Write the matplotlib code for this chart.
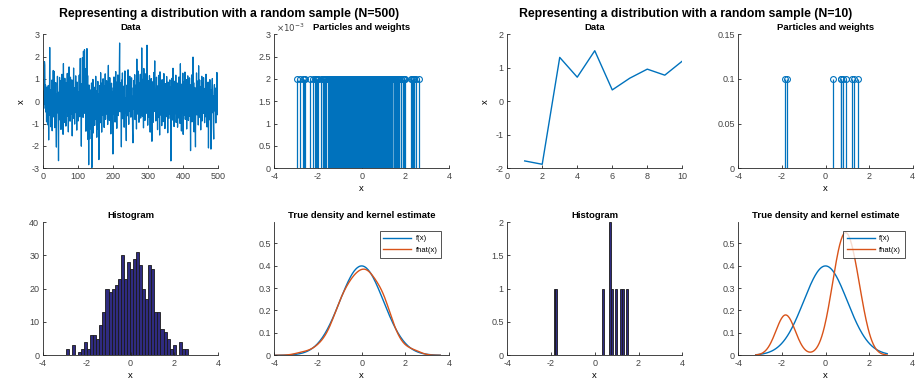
import numpy as np
import matplotlib
matplotlib.use('Agg')
import matplotlib.pyplot as plt

plt.rcParams['font.family'] = ['Liberation Sans', 'DejaVu Sans']
plt.rcParams['axes.unicode_minus'] = False

# sample of N=500 (values estimated from the trace)
data500 = [
    -1.21, 0.45, -0.32, 0.88, 1.78, 1.62, -0.15, 0.73, -0.48, 0.21, -0.92, 0.64, -0.27, -1.05, 0.38, 0.71, -1.73, 0.12, -0.56, 2.41,
    -0.63, 0.27, -1.14, 0.52, -0.08, 0.95, -1.32, 0.18, -0.71, 1.38, -0.44, 0.06, 1.34, -1.18, 0.59, -0.21, 0.84, -0.97, -2.05, 0.33,
    -0.52, 1.12, -0.36, 0.24, -2.66, 0.41, -0.83, 1.07, 0.15, -0.62, 0.93, -1.26, 0.48, -0.11, 1.21, -0.74, 0.29, -1.48, 1.69, -0.39,
    0.57, -0.95, 1.03, -0.18, 0.36, -1.11, 0.82, -0.47, 0.13, 1.25, -0.66, 0.44, -1.37, 0.09, 1.54, -0.28, 0.67, -0.89, 1.08, -0.14,
    0.49, -0.58, 0.96, -1.55, 0.22, 0.75, -0.31, 1.49, -0.77, 0.34, -1.02, 0.61, -0.23, 1.14, -0.51, 0.17, -1.29, 0.86, -0.05, 0.42,
    -0.88, 0.31, -0.42, 1.17, -0.69, 0.55, 1.92, -0.37, 0.04, -2.01, 0.78, -0.16, 1.95, 0.26, -0.72, 2.24, 1.38, -0.54, 2.31, 0.66,
    -0.29, 1.46, -1.34, 0.18, 0.92, 2.36, -0.61, 1.15, -1.71, 0.37, -2.84, 0.73, -0.48, -1.68, 0.51, -1.23, 0.29, -0.95, 0.82, -2.97,
    0.14, -0.67, 0.98, -1.42, 0.36, -0.19, 0.63, -1.08, 0.24, -0.53, 1.12, -0.82, 0.07, -1.61, 0.48, -0.34, 0.89, -1.25, 0.19, -2.61,
    0.35, -0.44, 0.71, -0.96, 1.28, -0.12, 0.53, -1.38, 0.02, 0.84, -0.63, 1.01, -0.27, 0.46, -1.17, 0.69, -0.38, 1.23, -0.81, 0.16,
    -0.57, 0.92, -0.21, 0.38, -1.04, 0.67, 1.61, -0.49, 0.13, -0.86, 1.06, -0.33, 0.58, -1.46, 0.27, 0.81, -0.72, 0.44, -1.13, -2.36,
    0.61, -0.25, 1.09, -0.58, 0.32, -0.93, 0.76, 1.33, -0.41, 0.19, -1.21, 0.87, -0.06, 1.18, -0.64, 0.45, -0.31, 1.02, 2.61, -0.47,
    0.83, -0.36, 0.24, -2.04, 0.95, -0.12, 1.27, -0.78, 0.53, -0.29, 0.68, -1.16, 0.41, 1.36, -0.54, 0.15, -0.92, -1.76, 0.72, -0.18,
    0.39, -0.65, 1.41, 0.08, -1.03, 0.57, -0.44, 1.12, -0.26, 0.84, -0.71, 0.33, 1.05, -0.48, 0.22, -1.32, -1.86, 0.61, -0.13, 0.94,
    -0.38, 1.19, -0.82, 0.46, -0.09, 0.73, -1.24, 1.89, 0.27, -0.57, 1.36, -0.16, 0.52, -0.94, 0.81, -0.33, 0.64, 1.21, -0.75, 0.37,
    -0.21, 2.39, 0.56, -0.68, 0.98, 0.14, -1.19, 1.47, -0.42, 0.71, -0.86, 1.23, 0.03, -0.55, 0.89, -0.27, 2.51, 0.48, -1.07, 0.66,
    -0.34, 0.93, -0.72, 1.15, 0.26, -1.38, 0.59, -0.13, 1.02, -0.61, -1.79, 0.42, 0.87, -0.95, 0.18, 1.29, -0.46, 0.74, 1.81, -0.23,
    0.51, -0.88, 0.36, 1.08, -0.52, 0.21, -1.27, 0.69, -0.04, 1.16, -0.73, 0.45, -1.51, 1.32, -0.19, 0.83, -0.62, 0.28, -1.09, 0.97,
    -0.43, 0.62, -0.91, 0.14, 1.24, -0.36, 0.57, -1.22, 0.79, -0.08, 0.38, -0.69, 1.11, -0.25, 0.47, -1.41, 0.86, 0.02, -0.77, 0.53,
    -0.31, 0.96, -0.58, 0.23, -2.67, 0.65, -0.17, 1.03, -0.84, 0.41, 1.48, -0.39, 0.72, -1.13, 0.28, -0.56, 0.91, -0.22, 1.17, -0.95,
    0.34, -0.47, 0.82, -1.16, 0.19, 0.63, -0.74, 1.09, -0.28, 0.55, -0.99, 1.68, -0.15, 0.44, -1.33, 0.77, -0.52, 0.25, 1.26, -1.48,
    0.12, -0.63, 0.88, -0.35, 1.31, -0.81, 0.46, -0.11, 0.97, -1.24, 0.58, -0.42, 1.14, 0.31, -0.86, 0.69, -0.19, 1.05, -0.67, 0.23,
    -2.21, 0.74, -0.45, 1.18, -0.92, 0.37, -0.24, 1.98, -0.58, 0.83, -1.37, 0.16, 0.62, -0.79, -2.04, 0.48, -0.33, 1.27, -0.61, 0.91,
    -0.18, 0.53, -1.06, 1.59, -0.41, 0.26, 0.95, -0.73, 0.39, -1.28, 0.67, -0.14, 1.12, -0.88, 0.31, 0.82, -0.54, 1.06, -0.26, 0.44,
    -0.96, 0.58, 0.13, -0.69, 1.21, -0.37, 0.64, -1.15, 0.29, -0.47, 0.86, -2.09, 0.41, -0.83, 0.17, 0.97, -0.62, 0.35, -2.14, 0.52,
    -0.29, 0.61, 1.02, -0.51, 0.24, -1.12, -1.69, 0.38, 0.75, -0.43, 0.11, 0.59, -0.97, 0.46, -0.35, 1.29, -0.58, 0.33, -0.61, 1.19,
]

# histogram of the N=500 sample, counts
hist500_first_center = -2.88
hist500_last_center = 2.55
hist500_counts = [2, 0, 3, 0, 1, 2, 4, 2, 6, 6, 5, 9, 13, 20, 19, 20, 21, 23, 30, 23,
                  28, 26, 29, 31, 27, 20, 17, 27, 26, 13, 13, 8, 7, 5, 2, 3, 0, 4, 2, 2]

# sample of N=10
data10 = [-1.78, -1.88, 1.31, 0.72, 1.51, 0.34, 0.69, 0.96, 0.78, 1.20]

bandwidth500 = 0.33
bandwidth10 = 0.44

BLUE = '#0072BD'
ORANGE = '#D95319'
AXC = '#262626'
BARFACE = '#2f2b80'


def style(ax):
    for s in ['top', 'right']:
        ax.spines[s].set_visible(False)
    for s in ['left', 'bottom']:
        ax.spines[s].set_color(AXC)
        ax.spines[s].set_linewidth(0.6)
    ax.tick_params(direction='in', length=2.5, width=0.6, labelsize=6.5,
                   colors=AXC, labelcolor='#444444', pad=2.5)


def small_title(ax, txt):
    ax.set_title(txt, fontsize=6.8, fontweight='bold', pad=3)


def kde(grid, xs, h, weights=None):
    xs = np.asarray(xs, dtype=float)
    if weights is None:
        weights = np.ones_like(xs)
    weights = np.asarray(weights, dtype=float)
    z = (grid[:, None] - xs[None, :]) / h
    return (np.exp(-0.5 * z ** 2) * weights).sum(axis=1) / (weights.sum() * h * np.sqrt(2 * np.pi))


def density_panel(ax, lo, hi, h, xs, weights=None):
    grid = np.linspace(lo - 3 * h, hi + 3 * h, 200)
    f = np.exp(-0.5 * grid ** 2) / np.sqrt(2 * np.pi)
    ax.plot(grid, f, color=BLUE, lw=1.0, label='f(x)')
    ax.plot(grid, kde(grid, xs, h, weights), color=ORANGE, lw=1.0, label='fhat(x)')
    ax.set_xlim(-4, 4)
    ax.set_ylim(0, 0.595)
    ax.set_xticks([-4, -2, 0, 2, 4])
    ax.set_yticks([0, 0.1, 0.2, 0.3, 0.4, 0.5])
    ax.set_yticklabels(['0', '0.1', '0.2', '0.3', '0.4', '0.5'])
    ax.set_xlabel('x', fontsize=6.8, labelpad=2)
    small_title(ax, 'True density and kernel estimate')
    leg = ax.legend(loc='upper right', bbox_to_anchor=(0.955, 0.93), fontsize=5.5,
                    frameon=True, fancybox=False, handlelength=3.6,
                    borderpad=0.5, labelspacing=0.55, handletextpad=0.6, borderaxespad=0.0)
    leg.get_frame().set_edgecolor('#262626')
    leg.get_frame().set_linewidth(0.7)
    style(ax)


def particle_panel(ax, xs, ymax, yticks, scale):
    w = 1.0 / len(xs)
    ax.vlines(xs, 0, w, color=BLUE, lw=0.9)
    ax.plot(xs, [w] * len(xs), 'o', mfc='none', mec=BLUE, ms=4.2, mew=0.8)
    ax.set_xlim(-4, 4)
    ax.set_ylim(0, ymax)
    ax.set_xticks([-4, -2, 0, 2, 4])
    ax.set_yticks(yticks)
    ax.set_yticklabels([('%g' % (t / scale)) for t in yticks])
    ax.set_xlabel('x', fontsize=6.8, labelpad=2)
    small_title(ax, 'Particles and weights')
    style(ax)


W, H = 917, 383
fig = plt.figure(figsize=(W / 100, H / 100), dpi=100)

cols = [42.7, 274.3, 507.2, 738.3]
widths = [175.6, 174.7, 175.1, 174.4]
top_bottom, top_height = 383 - 168.3, 134.0
bot_bottom, bot_height = 383 - 355.3, 133.3


def make_ax(c, row):
    if row == 0:
        return fig.add_axes([cols[c] / W, top_bottom / H, widths[c] / W, top_height / H])
    return fig.add_axes([cols[c] / W, bot_bottom / H, widths[c] / W, bot_height / H])


# ---- N = 500 ----
ax = make_ax(0, 0)
ax.plot(np.arange(1, len(data500) + 1), data500, color=BLUE, lw=0.9)
ax.set_xlim(0, 500)
ax.set_ylim(-3, 3)
ax.set_xticks([0, 100, 200, 300, 400, 500])
ax.set_yticks([-3, -2, -1, 0, 1, 2, 3])
ax.set_ylabel('x', fontsize=6.8, labelpad=4)
small_title(ax, 'Data')
style(ax)

ax = make_ax(1, 0)
particle_panel(ax, data500, 3e-3, [0, 0.5e-3, 1e-3, 1.5e-3, 2e-3, 2.5e-3, 3e-3], 1e-3)
ax.text(0.01, 1.0, r'$\times10^{-3}$', transform=ax.transAxes, fontsize=6.2,
        color='#444444', va='bottom', ha='left')

ax = make_ax(0, 1)
centers = np.linspace(hist500_first_center, hist500_last_center, len(hist500_counts))
ax.bar(centers, hist500_counts, width=centers[1] - centers[0], color=BARFACE,
       edgecolor='#1a1a1a', linewidth=0.6)
ax.set_xlim(-4, 4)
ax.set_ylim(0, 40)
ax.set_xticks([-4, -2, 0, 2, 4])
ax.set_yticks([0, 10, 20, 30, 40])
ax.set_xlabel('x', fontsize=6.8, labelpad=2)
small_title(ax, 'Histogram')
style(ax)

# kernel estimate of the N=500 sample, from the histogram read above
ax = make_ax(1, 1)
density_panel(ax, min(data500), max(data500), bandwidth500, centers, hist500_counts)

# ---- N = 10 ----
ax = make_ax(2, 0)
ax.plot(np.arange(1, len(data10) + 1), data10, color=BLUE, lw=1.0)
ax.set_xlim(0, 10)
ax.set_ylim(-2, 2)
ax.set_xticks([0, 2, 4, 6, 8, 10])
ax.set_yticks([-2, -1, 0, 1, 2])
ax.set_ylabel('x', fontsize=6.8, labelpad=4)
small_title(ax, 'Data')
style(ax)

ax = make_ax(3, 0)
particle_panel(ax, data10, 0.15, [0, 0.05, 0.1, 0.15], 1)

ax = make_ax(2, 1)
counts10, edges10 = np.histogram(data10, bins=40)
ax.bar(edges10[:-1], counts10, width=np.diff(edges10), align='edge', color=BARFACE,
       edgecolor='#1a1a1a', linewidth=0.6)
ax.set_xlim(-4, 4)
ax.set_ylim(0, 2)
ax.set_xticks([-4, -2, 0, 2, 4])
ax.set_yticks([0, 0.5, 1, 1.5, 2])
ax.set_yticklabels(['0', '0.5', '1', '1.5', '2'])
ax.set_xlabel('x', fontsize=6.8, labelpad=2)
small_title(ax, 'Histogram')
style(ax)

ax = make_ax(3, 1)
density_panel(ax, min(data10), max(data10), bandwidth10, data10)

fig.text(229 / W, 1 - 14 / H, 'Representing a distribution with a random sample (N=500)',
         ha='center', va='center', fontsize=8.8, fontweight='bold')
fig.text(686 / W, 1 - 14 / H, 'Representing a distribution with a random sample (N=10)',
         ha='center', va='center', fontsize=8.8, fontweight='bold')

fig.savefig('out.png', dpi=100)
